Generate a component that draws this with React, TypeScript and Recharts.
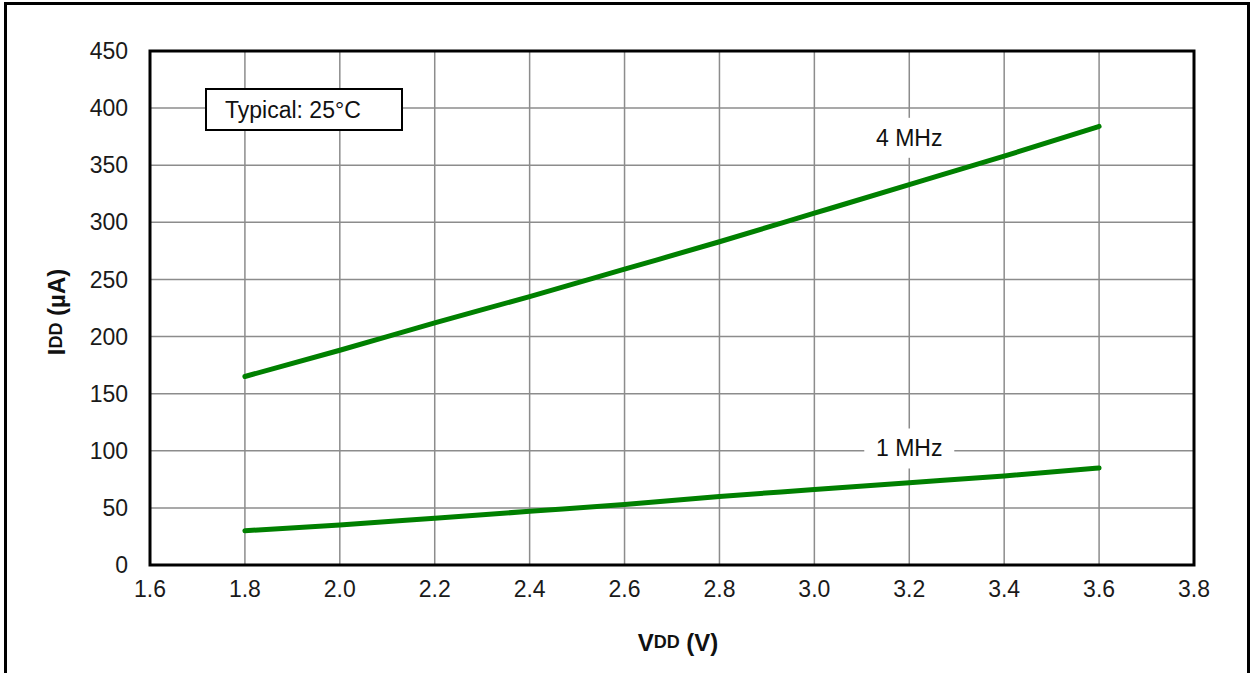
import { LineChart, Line, XAxis, YAxis, CartesianGrid, ReferenceArea, ReferenceDot, Label } from 'recharts';

// supply voltage (V) and supply current (µA)
const vdd = [1.8, 2.0, 2.2, 2.4, 2.6, 2.8, 3.0, 3.2, 3.4, 3.6];
const idd4MHz = [165, 188, 212, 235, 259, 283, 308, 333, 358, 384];
const idd1MHz = [30, 35, 41, 47, 53, 60, 66, 72, 78, 85];

const xTicks = [1.6, 1.8, 2.0, 2.2, 2.4, 2.6, 2.8, 3.0, 3.2, 3.4, 3.6, 3.8];
const yTicks = [0, 50, 100, 150, 200, 250, 300, 350, 400, 450];

const data = vdd.map((v, i) => ({ vdd: v, f4: idd4MHz[i], f1: idd1MHz[i] }));

const FONT = '"Liberation Sans", Arial, sans-serif';
const LINE_COLOR = '#008000';

function freqLabel(text: string) {
    return (props: any) => {
        const { cx, cy } = props;
        return (
            <g>
                <rect x={cx - 45} y={cy - 20} width={90} height={40} fill="#fff" />
                <text x={cx} y={cy} textAnchor="middle" dominantBaseline="central" fontSize={23} fontFamily={FONT} fill="#111">
                    {text}
                </text>
            </g>
        );
    };
}

export default function App() {
    return (
        <div style={{ position: 'absolute', left: 0, top: 0, width: 1251, height: 673, overflow: 'hidden', background: '#fff' }}>
            <div style={{ position: 'absolute', left: 4, top: 2, width: 1240, height: 720, border: '3px solid #000' }} />
            <div style={{ position: 'absolute', left: 0, top: 0 }}>
                <LineChart width={1251} height={673} data={data} margin={{ top: 51, right: 57, bottom: 0, left: 0 }}>
                    <CartesianGrid stroke="#8c8c8c" strokeWidth={1.5} horizontalValues={yTicks} verticalValues={xTicks} />
                    <XAxis
                        type="number"
                        dataKey="vdd"
                        domain={[1.6, 3.8]}
                        ticks={xTicks}
                        tickFormatter={(v: number) => v.toFixed(1)}
                        height={108}
                        axisLine={false}
                        tickLine={false}
                        tickSize={0}
                        tickMargin={16}
                        tick={{ fontSize: 23, fontFamily: FONT, fill: '#1a1a1a' }}
                    >
                        <Label
                            content={(props: any) => {
                                const vb = props.viewBox;
                                return (
                                    <text x={vb.x + vb.width / 2 + 6} y={vb.y + 77} textAnchor="middle" dominantBaseline="central" fontFamily={FONT} fontWeight="bold" fill="#111">
                                        <tspan fontSize={24}>V</tspan>
                                        <tspan fontSize={18}>DD</tspan>
                                        <tspan fontSize={24}> (V)</tspan>
                                    </text>
                                );
                            }}
                        />
                    </XAxis>
                    <YAxis
                        type="number"
                        domain={[0, 450]}
                        ticks={yTicks}
                        width={150}
                        axisLine={false}
                        tickLine={false}
                        tickSize={0}
                        tickMargin={22}
                        tick={{ fontSize: 23, fontFamily: FONT, fill: '#1a1a1a' }}
                    >
                        <Label
                            content={(props: any) => {
                                const vb = props.viewBox;
                                const x = vb.x + 56;
                                const y = vb.y + vb.height / 2 + 4;
                                return (
                                    <text x={x} y={y} transform={`rotate(-90 ${x} ${y})`} textAnchor="middle" dominantBaseline="central" fontFamily={FONT} fontWeight="bold" fill="#111">
                                        <tspan fontSize={24}>I</tspan>
                                        <tspan fontSize={18}>DD</tspan>
                                        <tspan fontSize={24}> (µA)</tspan>
                                    </text>
                                );
                            }}
                        />
                    </YAxis>
                    <ReferenceArea x1={1.6} x2={3.8} y1={0} y2={450} fill="none" stroke="#000" strokeWidth={3} />
                    <ReferenceDot x={3.2} y={374} r={0} shape={freqLabel('4 MHz')} />
                    <ReferenceDot x={3.2} y={102} r={0} shape={freqLabel('1 MHz')} />
                    <Line type="monotone" dataKey="f4" stroke={LINE_COLOR} strokeWidth={5} strokeLinecap="round" dot={false} isAnimationActive={false} />
                    <Line type="monotone" dataKey="f1" stroke={LINE_COLOR} strokeWidth={5} strokeLinecap="round" dot={false} isAnimationActive={false} />
                </LineChart>
            </div>
            <div
                style={{
                    position: 'absolute',
                    left: 205,
                    top: 88,
                    width: 176,
                    height: 39,
                    border: '2px solid #000',
                    background: '#fff',
                    fontFamily: FONT,
                    fontSize: 23,
                    color: '#111',
                    lineHeight: '40px',
                    paddingLeft: 18,
                    boxSizing: 'content-box',
                    whiteSpace: 'nowrap',
                }}
            >
                Typical: 25°C
            </div>
        </div>
    );
}
